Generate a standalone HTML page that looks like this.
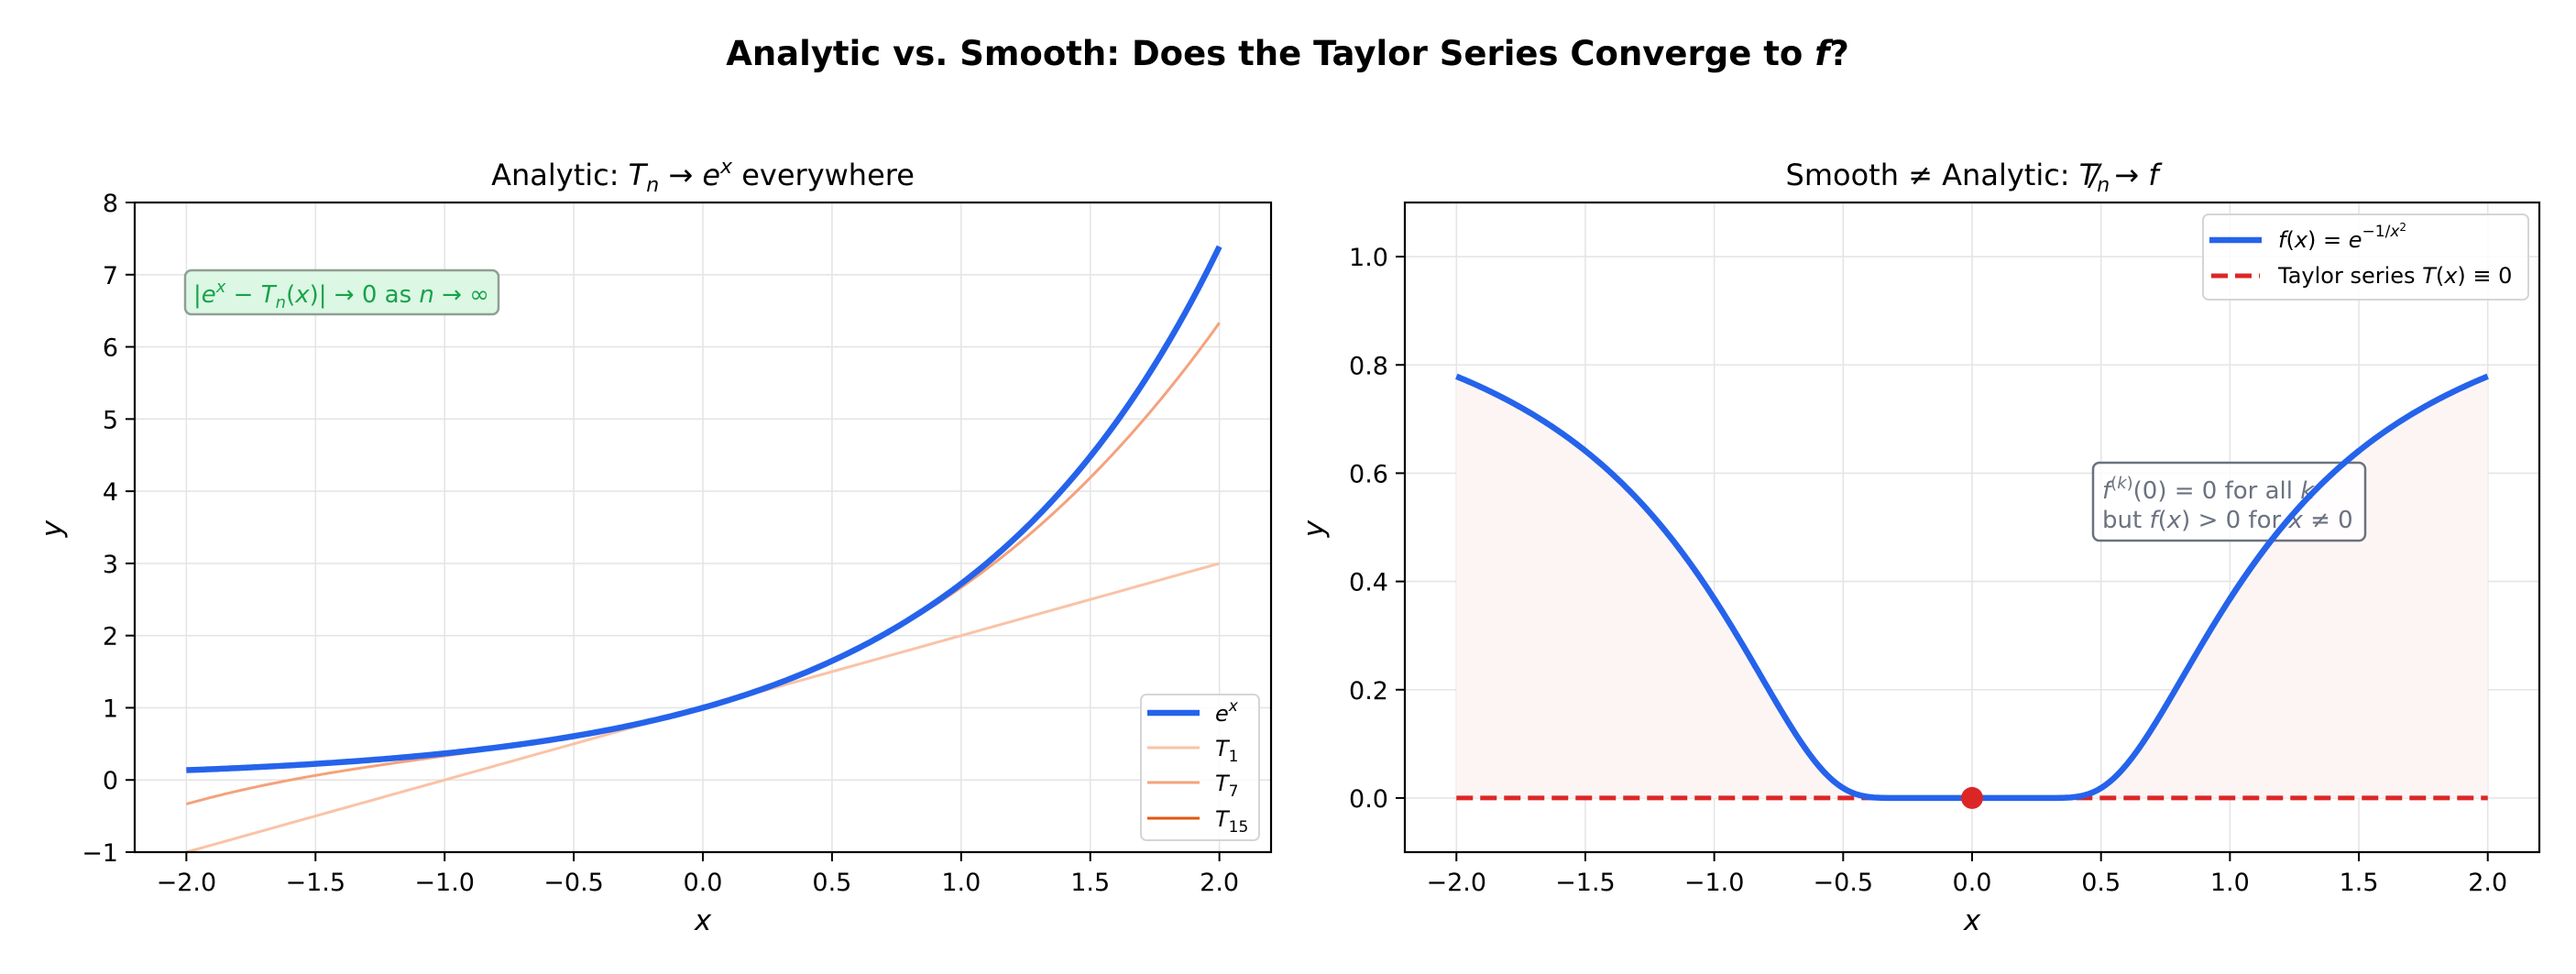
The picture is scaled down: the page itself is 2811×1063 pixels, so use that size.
<!DOCTYPE html>
<html><head><meta charset="utf-8"><style>
html,body{margin:0;padding:0;background:#fff;}
svg{display:block;font-family:"DejaVu Sans","Liberation Sans",sans-serif;}
</style></head><body>
<svg id="s" width="2811" height="1063" viewBox="0 0 2811 1063" xmlns="http://www.w3.org/2000/svg">
<rect width="2811" height="1063" fill="#fff"/>
<text x="1405" y="71" font-size="37" font-weight="bold" text-anchor="middle">Analytic vs. Smooth: Does the Taylor Series Converge to <tspan font-style="italic">f</tspan>?</text>
<text x="767" y="202" font-size="32" text-anchor="middle">Analytic: <tspan font-style="italic">T</tspan><tspan font-style="italic" font-size="22" dy="7">n</tspan><tspan dy="-7"> → </tspan><tspan font-style="italic">e</tspan><tspan font-style="italic" font-size="22" dy="-13">x</tspan><tspan dy="13"> everywhere</tspan></text>
<text x="2152" y="202" font-size="32" text-anchor="middle">Smooth  ≠  Analytic: <tspan font-style="italic">T</tspan><tspan font-style="italic" font-size="22" dy="7">n</tspan><tspan dy="-7" font-style="italic" dx="-22">/</tspan><tspan dx="6"> → </tspan><tspan font-style="italic">f</tspan></text>
<g id="g1"></g>
<g id="g2"></g>
</svg>
<script>
var NS="http://www.w3.org/2000/svg";
function el(p,t,a,txt){var e=document.createElementNS(NS,t);for(var k in a)e.setAttribute(k,a[k]);if(txt!==undefined)e.textContent=txt;p.appendChild(e);return e;}
var g1=document.getElementById('g1'),g2=document.getElementById('g2');
function fmt(v,d){var s=v.toFixed(d);if(v<-1e-9)s='\u2212'+s.slice(1);return s;}
function axes(g,L,R,T,B,xmin,xmax,ymin,ymax,yt,yd){
 var X=function(x){return L+(x-xmin)/(xmax-xmin)*(R-L);},Y=function(y){return B-(y-ymin)/(ymax-ymin)*(B-T);};
 for(var x=-2;x<=2.001;x+=0.5){el(g,'line',{x1:X(x),x2:X(x),y1:T,y2:B,stroke:'#e5e5e5','stroke-width':1.6});}
 yt.forEach(function(y){el(g,'line',{x1:L,x2:R,y1:Y(y),y2:Y(y),stroke:'#e5e5e5','stroke-width':1.6});});
 return {X:X,Y:Y};
}
function frame(g,L,R,T,B,m,yt,yd){
 el(g,'rect',{x:L,y:T,width:R-L,height:B-T,fill:'none',stroke:'#000','stroke-width':2.2});
 for(var x=-2;x<=2.001;x+=0.5){var px=m.X(x);el(g,'line',{x1:px,x2:px,y1:B,y2:B+10,stroke:'#000','stroke-width':2});
  el(g,'text',{x:px,y:972,'font-size':27,'text-anchor':'middle'},fmt(x,1));}
 yt.forEach(function(y){var py=m.Y(y);el(g,'line',{x1:L-10,x2:L,y1:py,y2:py,stroke:'#000','stroke-width':2});
  el(g,'text',{x:L-18,y:py+10,'font-size':27,'text-anchor':'end'},fmt(y,yd));});
 el(g,'text',{x:(L+R)/2,y:1015,'font-size':31,'font-style':'italic','text-anchor':'middle'},'x');
}
function path(m,f,a,b,n){var d='';for(var i=0;i<=n;i++){var x=a+(b-a)*i/n;d+=(i?'L':'M')+m.X(x).toFixed(2)+' '+m.Y(f(x)).toFixed(2);}return d;}
function taylor(n){return function(x){var s=0,t=1;for(var k=0;k<=n;k++){s+=t;t*=x/(k+1);}return s;};}
var L1=147,R1=1387,T=221,B=930;
var yt1=[-1,0,1,2,3,4,5,6,7,8];
var m1=axes(g1,L1,R1,T,B,-2.2,2.2,-1,8,yt1);
el(g1,'path',{d:path(m1,taylor(1),-2,2,50),fill:'none',stroke:'#f9c3a6','stroke-width':3});
el(g1,'path',{d:path(m1,taylor(3),-2,2,300),fill:'none',stroke:'#f4a27c','stroke-width':3});
el(g1,'path',{d:path(m1,taylor(15),-2,2,300),fill:'none',stroke:'#e8540f','stroke-width':3});
el(g1,'path',{d:path(m1,Math.exp,-2,2,300),fill:'none',stroke:'#2563eb','stroke-width':6.5,'stroke-linecap':'butt'});
frame(g1,L1,R1,T,B,m1,yt1,0);
el(g1,'text',{x:57,y:577,'font-size':31,'font-style':'italic','text-anchor':'middle',transform:'rotate(-90 57 577)',dy:10},'y');
el(g1,'rect',{x:202,y:295,width:342,height:48,rx:7,fill:'#dcf7e4',stroke:'#8f9f94','stroke-width':2.5});
var gt=el(g1,'text',{x:211,y:330,'font-size':26,fill:'#16a34a'});
gt.innerHTML='|<tspan font-style="italic">e</tspan><tspan font-style="italic" font-size="18" dy="-11">x</tspan><tspan dy="11"> − </tspan><tspan font-style="italic">T</tspan><tspan font-style="italic" font-size="18" dy="6">n</tspan><tspan dy="-6">(</tspan><tspan font-style="italic">x</tspan>)| → 0 as <tspan font-style="italic">n</tspan> → ∞';
el(g1,'rect',{x:1245,y:758,width:129,height:159,rx:6,fill:'#fff','fill-opacity':0.85,stroke:'#d5d5d5','stroke-width':2});
var le=[['#2563eb',6.5,'e','x',true],['#f9c3a6',3,'T','1'],['#f4a27c',3,'T','7'],['#e8540f',3,'T','15']];
le.forEach(function(e,i){var y=[778,816,854,893][i];el(g1,'line',{x1:1252,x2:1309,y1:y,y2:y,stroke:e[0],'stroke-width':e[1]});
 var t=el(g1,'text',{x:1326,y:y+9,'font-size':24,'font-style':'italic'});
 t.innerHTML=e[4]?'e<tspan font-size="17" dy="-11">x</tspan>':'T<tspan font-size="17" font-style="normal" dy="6">'+e[3]+'</tspan>';});
var L2=1533,R2=2771;
var yt2=[0,0.2,0.4,0.6,0.8,1.0];
var m2=axes(g2,L2,R2,T,B,-2.2,2.2,-0.1,1.1,yt2);
var f=function(x){return Math.abs(x)<1e-6?0:Math.exp(-1/(x*x));};
var d=path(m2,f,-2,2,400);
el(g2,'path',{d:d+'L'+m2.X(2)+' '+m2.Y(0)+'L'+m2.X(-2)+' '+m2.Y(0)+'Z',fill:'#fdf5f4',stroke:'none'});
el(g2,'line',{x1:m2.X(-2),x2:m2.X(2),y1:m2.Y(0),y2:m2.Y(0),stroke:'#dc2626','stroke-width':5,'stroke-dasharray':'18 8'});
el(g2,'path',{d:d,fill:'none',stroke:'#2563eb','stroke-width':6.5});
el(g2,'circle',{cx:m2.X(0),cy:m2.Y(0),r:12,fill:'#dc2626'});
frame(g2,L2,R2,T,B,m2,yt2,1);
el(g2,'text',{x:1434,y:577,'font-size':31,'font-style':'italic','text-anchor':'middle',transform:'rotate(-90 1434 577)',dy:10},'y');
el(g2,'rect',{x:2284,y:505,width:297,height:85,rx:7,fill:'#fff','fill-opacity':0.8,stroke:'#6b7280','stroke-width':2.5});
var a1=el(g2,'text',{x:2294,y:544,'font-size':26,fill:'#6b7280'});
a1.innerHTML='<tspan font-style="italic">f</tspan><tspan font-size="18" dy="-11">(<tspan font-style="italic">k</tspan>)</tspan><tspan dy="11">(0) = 0 for all </tspan><tspan font-style="italic">k</tspan>';
var a2=el(g2,'text',{x:2294,y:576,'font-size':26,fill:'#6b7280'});
a2.innerHTML='but <tspan font-style="italic">f</tspan>(<tspan font-style="italic">x</tspan>) &gt; 0 for <tspan font-style="italic">x</tspan> ≠ 0';
el(g2,'path',{d:path(m2,f,1.0,1.5,100),fill:'none',stroke:'#2563eb','stroke-width':6.5});
el(g2,'rect',{x:2404,y:234,width:355,height:93,rx:6,fill:'#fff','fill-opacity':0.85,stroke:'#d5d5d5','stroke-width':2});
el(g2,'line',{x1:2411,x2:2468,y1:262,y2:262,stroke:'#2563eb','stroke-width':6.5});
el(g2,'line',{x1:2413,x2:2466,y1:301,y2:301,stroke:'#dc2626','stroke-width':5,'stroke-dasharray':'18 8'});
var l1=el(g2,'text',{x:2486,y:270,'font-size':24});
l1.innerHTML='<tspan font-style="italic">f</tspan>(<tspan font-style="italic">x</tspan>) = <tspan font-style="italic">e</tspan><tspan font-size="17" dy="-12">−1/<tspan font-style="italic">x</tspan></tspan><tspan font-size="12" dy="-6">2</tspan>';
var l2=el(g2,'text',{x:2486,y:309,'font-size':24});
l2.innerHTML='Taylor series <tspan font-style="italic">T</tspan>(<tspan font-style="italic">x</tspan>) ≡ 0';
</script>
</body></html>
